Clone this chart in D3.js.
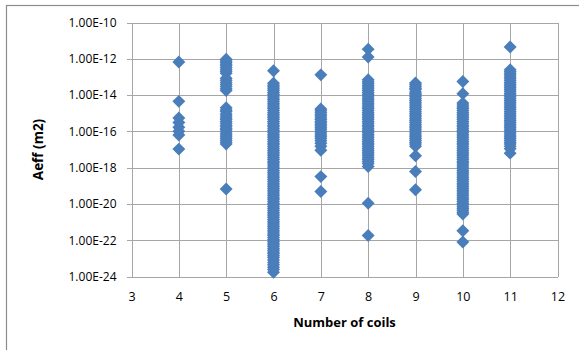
<!DOCTYPE html>
<html>
<head>
<meta charset="utf-8">
<script src="https://cdn.jsdelivr.net/npm/d3@7"></script>
<style>
  body { margin: 0; background: #fff; }
  svg { display: block; }
</style>
</head>
<body>
<svg id="chart" width="579" height="350"></svg>
<script>
// Aeff values (m2), one list per number of coils
var coils4 = [6.6e-13, 4.5e-15, 5.4e-16, 3.1e-16, 1.7e-16, 1.0e-16, 6.3e-17, 1.05e-17];
var coils5 = [9.5e-13, 7.5e-13, 6.3e-13, 5e-13, 4.1e-13, 3.2e-13, 2.5e-13, 2e-13, 1.6e-13,
	8.5e-14, 6.5e-14, 4.9e-14, 3.8e-14, 3.0e-14, 2.2e-14, 1.8e-14,
	2.0e-15, 1.5e-15, 1.26e-15, 9e-16, 7.1e-16, 5.5e-16, 4.5e-16, 3.5e-16, 2.8e-16, 2.2e-16, 1.9e-16,
	1.5e-16, 1.26e-16, 1e-16, 7.9e-17, 6.3e-17, 5.0e-17, 4e-17, 3.2e-17, 2.5e-17, 2.0e-17,
	6.6e-20];
var coils6 = [2.2e-13,
	4.5e-14, 3.5e-14, 2.8e-14, 2.2e-14, 1.8e-14, 1.4e-14, 1.1e-14,
	8.9e-15, 7e-15, 5.6e-15, 4.5e-15, 3.5e-15, 2.8e-15, 2.2e-15, 1.8e-15, 1.4e-15, 1.1e-15,
	8.9e-16, 7e-16, 5.6e-16, 4.5e-16, 3.5e-16, 2.8e-16, 2.2e-16, 1.8e-16, 1.4e-16, 1.1e-16,
	8.9e-17, 7e-17, 5.6e-17, 4.5e-17, 3.5e-17, 2.8e-17, 2.2e-17, 1.8e-17, 1.4e-17, 1.1e-17,
	8.9e-18, 7e-18, 5.6e-18, 4.5e-18, 3.5e-18, 2.8e-18, 2.2e-18, 1.8e-18, 1.4e-18, 1.1e-18,
	8.9e-19, 7e-19, 5.6e-19, 4.5e-19, 3.5e-19, 2.8e-19, 2.2e-19, 1.8e-19, 1.4e-19, 1.1e-19,
	8.9e-20, 7e-20, 5.6e-20, 4.5e-20, 3.5e-20, 2.8e-20, 2.2e-20, 1.8e-20, 1.4e-20, 1.1e-20,
	8.9e-21, 7e-21, 5.6e-21, 4.5e-21, 3.5e-21, 2.8e-21, 2.2e-21, 1.8e-21, 1.4e-21, 1.1e-21,
	8.9e-22, 7e-22, 5.6e-22, 4.5e-22, 3.5e-22, 2.8e-22, 2.2e-22, 1.8e-22, 1.4e-22, 1.1e-22,
	8.9e-23, 7e-23, 5.6e-23, 4.5e-23, 3.5e-23, 2.8e-23, 2.2e-23, 1.8e-23, 1.4e-23, 1.1e-23,
	8e-24, 6e-24, 4.5e-24, 3.2e-24, 2.4e-24, 1.7e-24];
var coils7 = [1.3e-13, 1.7e-15, 1.35e-15, 1.1e-15, 8.5e-16, 7e-16, 5.5e-16, 4.5e-16, 3.5e-16, 3e-16,
	2.4e-16, 2e-16, 1.6e-16, 1.3e-16, 1e-16, 8e-17, 6.3e-17, 5e-17, 4e-17, 3e-17, 2.2e-17,
	1.5e-17, 9e-18, 3.2e-19, 4.8e-20];
var coils8 = [3.4e-12, 1.26e-12,
	7e-14, 5.5e-14, 4.5e-14, 3.5e-14, 2.8e-14, 2.2e-14, 1.8e-14, 1.4e-14, 1.1e-14,
	8.9e-15, 7e-15, 5.6e-15, 4.5e-15, 3.5e-15, 2.8e-15, 2.2e-15, 1.8e-15, 1.4e-15, 1.1e-15,
	8.9e-16, 7e-16, 5.6e-16, 4.5e-16, 3.5e-16, 2.8e-16, 2.2e-16, 1.8e-16, 1.4e-16, 1.1e-16,
	8.9e-17, 7e-17, 5.6e-17, 4.5e-17, 3.5e-17, 2.8e-17, 2.2e-17, 1.8e-17, 1.4e-17, 1.1e-17,
	8.9e-18, 7e-18, 5.6e-18, 4.5e-18, 3.5e-18, 2.8e-18, 2.2e-18, 1.7e-18, 1.15e-18,
	1.1e-20, 1.8e-22];
var coils9 = [4.6e-14, 3.7e-14, 3e-14, 2.4e-14, 2e-14, 1.5e-14, 1.2e-14, 1e-14,
	8e-15, 6.3e-15, 5e-15, 4e-15, 3.2e-15, 2.5e-15, 2e-15, 1.6e-15, 1.26e-15, 1e-15,
	8e-16, 6.3e-16, 5e-16, 4e-16, 3.2e-16, 2.5e-16, 2e-16, 1.6e-16, 1.26e-16, 1e-16,
	8e-17, 6.3e-17, 5e-17, 4e-17, 3.2e-17, 2.5e-17, 2e-17, 1.5e-17,
	4.5e-18, 6.2e-19, 6.0e-20];
var coils10 = [5.6e-14, 1.2e-14,
	3.6e-15, 2.8e-15, 2.2e-15, 1.8e-15, 1.4e-15, 1.1e-15,
	8.9e-16, 7e-16, 5.6e-16, 4.5e-16, 3.5e-16, 2.8e-16, 2.2e-16, 1.8e-16, 1.4e-16, 1.1e-16,
	8.9e-17, 7e-17, 5.6e-17, 4.5e-17, 3.5e-17, 2.8e-17, 2.2e-17, 1.8e-17, 1.4e-17, 1.1e-17,
	8.9e-18, 7e-18, 5.6e-18, 4.5e-18, 3.5e-18, 2.8e-18, 2.2e-18, 1.8e-18, 1.4e-18, 1.1e-18,
	8.9e-19, 7e-19, 5.6e-19, 4.5e-19, 3.5e-19, 2.8e-19, 2.2e-19, 1.8e-19, 1.4e-19, 1.1e-19,
	8.9e-20, 7e-20, 5.6e-20, 4.5e-20, 3.5e-20, 2.8e-20, 2.2e-20, 1.8e-20, 1.4e-20, 1.1e-20,
	8.9e-21, 7e-21, 5.6e-21, 4.5e-21, 3.5e-21, 2.8e-21,
	3.3e-22, 7.9e-23];
var coils11 = [4.5e-12,
	2.5e-13, 2e-13, 1.6e-13, 1.26e-13, 1e-13,
	8e-14, 6.3e-14, 5e-14, 4e-14, 3.2e-14, 2.5e-14, 2e-14, 1.6e-14, 1.26e-14, 1e-14,
	8e-15, 6.3e-15, 5e-15, 4e-15, 3.2e-15, 2.5e-15, 2e-15, 1.6e-15, 1.26e-15, 1e-15,
	8e-16, 6.3e-16, 5e-16, 4e-16, 3.2e-16, 2.5e-16, 2e-16, 1.6e-16, 1.26e-16, 1e-16,
	8e-17, 6.3e-17, 5e-17, 4e-17, 3.2e-17, 2.5e-17, 2e-17, 1.5e-17, 1.1e-17, 6.3e-18];

var xTicks = [3, 4, 5, 6, 7, 8, 9, 10, 11, 12];
var yTicks = [1e-24, 1e-22, 1e-20, 1e-18, 1e-16, 1e-14, 1e-12, 1e-10];
var xTitle = "Number of coils";
var yTitle = "Aeff (m2)";

// Build point list
var series = [[4, coils4], [5, coils5], [6, coils6], [7, coils7], [8, coils8],
	[9, coils9], [10, coils10], [11, coils11]];
var points = [];
series.forEach(function(s) {
	s[1].forEach(function(v) { points.push({ n: s[0], a: v }); });
});

var svg = d3.select("#chart");
var gridColor = "#a6a6a6";
var font = "'Open Sans', 'Liberation Sans', sans-serif";

// Chart border
svg.append("rect")
	.attr("x", 6.5).attr("y", 5.5)
	.attr("width", 620).attr("height", 400)
	.attr("fill", "none")
	.attr("stroke", "#8c8c8c")
	.attr("stroke-width", 1.2);

let x = d3.scaleLinear().domain([3, 12]).range([131.5, 557.5]),
	y = d3.scaleLog().domain([1e-24, 1e-10]).range([276.5, 22.5]);

// Horizontal gridlines + y labels
let yAxis = svg.append("g")
	.attr("transform", "translate(131.5,0)")
	.call(d3.axisLeft(y)
		.tickValues(yTicks)
		.tickSizeInner(-(557.5 - 131.5))
		.tickSizeOuter(0)
		.tickPadding(15)
		.tickFormat(d => d3.format(".2e")(d).toUpperCase()));
yAxis.select(".domain").remove();
yAxis.selectAll(".tick line")
	.attr("x1", -5)
	.attr("stroke", gridColor)
	.attr("shape-rendering", "crispEdges");
yAxis.selectAll(".tick text")
	.style("font-family", font)
	.style("font-size", "12px")
	.attr("fill", "#000");

// Vertical gridlines + x labels
let xAxis = svg.append("g")
	.attr("transform", "translate(0,276.5)")
	.call(d3.axisBottom(x)
		.tickValues(xTicks)
		.tickSizeInner(-(276.5 - 22.5))
		.tickSizeOuter(0)
		.tickPadding(16)
		.tickFormat(d3.format("d")));
xAxis.select(".domain").remove();
xAxis.selectAll(".tick line")
	.attr("stroke", gridColor)
	.attr("shape-rendering", "crispEdges");
xAxis.selectAll(".tick text")
	.attr("y", 16)
	.style("font-family", font)
	.style("font-size", "12.5px")
	.attr("fill", "#000");

// Markers
let diamond = d3.symbol().type(d3.symbolSquare).size(84);
svg.append("g")
	.selectAll("path")
	.data(points)
	.enter()
	.append("path")
	.attr("d", diamond)
	.attr("transform", d => "translate(" + x(d.n) + "," + y(d.a) + ") rotate(45)")
	.attr("fill", "#4a7ebb");

// Axis titles
svg.append("text")
	.attr("x", 344.5)
	.attr("y", 327)
	.attr("text-anchor", "middle")
	.style("font-family", font)
	.style("font-weight", "bold")
	.style("font-size", "13px")
	.text(xTitle);

svg.append("text")
	.attr("transform", "translate(43,149.5) rotate(-90)")
	.attr("text-anchor", "middle")
	.style("font-family", font)
	.style("font-weight", "bold")
	.style("font-size", "13.5px")
	.text(yTitle);
</script>
</body>
</html>
